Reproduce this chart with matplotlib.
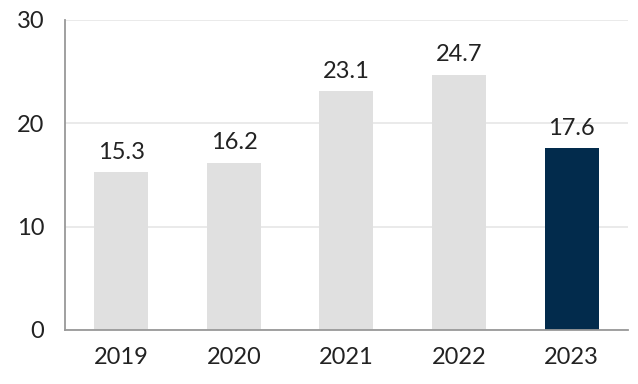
import matplotlib.pyplot as plt

years = ['2019', '2020', '2021', '2022', '2023']
values = [15.3, 16.2, 23.1, 24.7, 17.6]
colors = ['#e0e0e0', '#e0e0e0', '#e0e0e0', '#e0e0e0', '#022b4c']

plt.rcParams['font.family'] = ['Lato', 'DejaVu Sans']

fig = plt.figure(figsize=(6.38, 3.84), dpi=100)
ax = fig.add_axes([0.102, 0.141, 0.882, 0.807])

x = range(len(years))
bars = ax.bar(x, values, width=0.48, color=colors, zorder=2)
for b, v in zip(bars, values):
    ax.text(b.get_x() + b.get_width() / 2, v + 0.9, f'{v:.1f}',
            ha='center', va='bottom', fontsize=17, color='#222222')

ax.set_xlim(-0.5, 4.5)
ax.set_ylim(0, 30)
ax.set_yticks([0, 10, 20, 30])
ax.set_xticks(list(x))
ax.set_xticklabels(years)
ax.yaxis.grid(True, color='#e6e6e6', linewidth=1.2, zorder=0)
ax.tick_params(length=0, labelsize=17, colors='#222222')
ax.tick_params(axis='x', pad=12)
ax.tick_params(axis='y', pad=15)
for s in ['top', 'right']:
    ax.spines[s].set_visible(False)
for s in ['left', 'bottom']:
    ax.spines[s].set_color('#999999')
    ax.spines[s].set_linewidth(1.3)

fig.savefig('out.png', dpi=100)
